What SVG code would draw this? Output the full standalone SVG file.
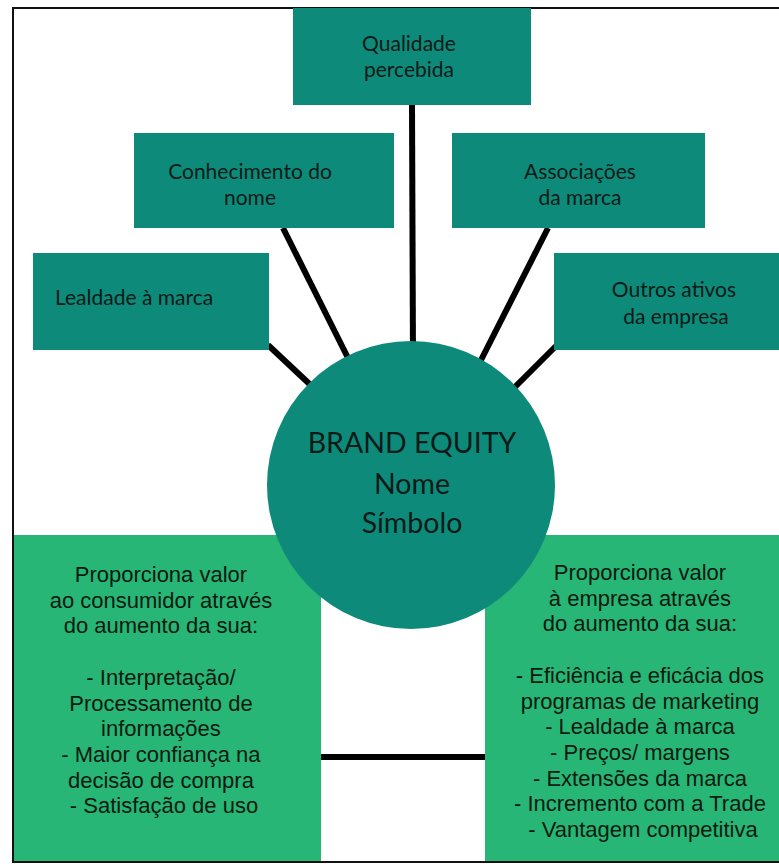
<svg xmlns="http://www.w3.org/2000/svg" width="779" height="864" viewBox="0 0 779 864">
  <style>
    .teal { fill: #0e8a7a; }
    .green { fill: #27b675; }
    .spoke { stroke: #000; stroke-width: 6; fill: none; }
    .frame { stroke: #111; stroke-width: 2; fill: none; }
    .lbl { font-family: "Lato", "Liberation Sans", sans-serif; font-size: 21px; fill: #0a1a17; }
    .core { font-family: "Lato", "Liberation Sans", sans-serif; font-size: 28.5px; fill: #0a1a17; text-anchor: middle; }
    .list { font-family: "Liberation Sans", Arial, sans-serif; font-size: 22px; fill: #0a1a10; text-anchor: middle; }
  </style>

  <rect x="0" y="0" width="779" height="864" fill="#ffffff"/>

  <!-- outer frame -->
  <path class="frame" d="M779 8 H13 V862 H779"/>

  <!-- value boxes -->
  <g id="valor-consumidor">
    <rect class="green" x="14" y="535" width="307" height="326"/>
    <text class="list">
      <tspan x="164" y="582">Proporciona valor</tspan>
      <tspan x="164" y="607.7">ao consumidor através</tspan>
      <tspan x="164" y="633.4">do aumento da sua:</tspan>
      <tspan x="164" y="684.8">- Interpretação/</tspan>
      <tspan x="164" y="710.5">Processamento de</tspan>
      <tspan x="164" y="736.2">informações</tspan>
      <tspan x="164" y="761.9">- Maior confiança na</tspan>
      <tspan x="164" y="787.6">decisão de compra</tspan>
      <tspan x="164" y="813.3">- Satisfação de uso</tspan>
    </text>
  </g>
  <g id="valor-empresa">
    <rect class="green" x="485" y="535" width="294" height="326"/>
    <text class="list">
      <tspan x="643" y="580">Proporciona valor</tspan>
      <tspan x="643" y="605.7">à empresa através</tspan>
      <tspan x="643" y="631.4">do aumento da sua:</tspan>
      <tspan x="643" y="682.8">- Eficiência e eficácia dos</tspan>
      <tspan x="643" y="708.5">programas de marketing</tspan>
      <tspan x="643" y="734.2">- Lealdade à marca</tspan>
      <tspan x="643" y="759.9">- Preços/ margens</tspan>
      <tspan x="643" y="785.6">- Extensões da marca</tspan>
      <tspan x="643" y="811.3">- Incremento com a Trade</tspan>
      <tspan x="643" y="837">- Vantagem competitiva</tspan>
    </text>
  </g>

  <!-- connectors -->
  <g id="connectors">
    <line class="spoke" x1="412" y1="105" x2="413" y2="360"/>
    <line class="spoke" x1="283" y1="228" x2="352" y2="366"/>
    <line class="spoke" x1="548" y1="228" x2="478" y2="366"/>
    <line class="spoke" x1="268" y1="345" x2="318" y2="392"/>
    <line class="spoke" x1="557" y1="345" x2="510" y2="392"/>
    <line class="spoke" x1="321" y1="757" x2="485" y2="757"/>
  </g>

  <!-- asset boxes -->
  <g id="qualidade">
    <rect class="teal" x="293" y="8" width="238" height="97"/>
    <text class="lbl" text-anchor="middle"><tspan x="409" y="51">Qualidade</tspan><tspan x="409" y="77">percebida</tspan></text>
  </g>
  <g id="conhecimento">
    <rect class="teal" x="134" y="133" width="260" height="95"/>
    <text class="lbl" text-anchor="middle"><tspan x="250" y="179">Conhecimento do</tspan><tspan x="250" y="205">nome</tspan></text>
  </g>
  <g id="associacoes">
    <rect class="teal" x="452" y="133" width="253" height="95"/>
    <text class="lbl" text-anchor="middle"><tspan x="580" y="179">Associações</tspan><tspan x="580" y="205">da marca</tspan></text>
  </g>
  <g id="lealdade">
    <rect class="teal" x="33" y="253" width="236" height="97"/>
    <text class="lbl" x="55" y="305">Lealdade à marca</text>
  </g>
  <g id="outros">
    <rect class="teal" x="554" y="253" width="225" height="97"/>
    <text class="lbl" text-anchor="middle"><tspan x="674" y="297">Outros ativos</tspan><tspan x="676" y="324">da empresa</tspan></text>
  </g>

  <!-- central node -->
  <g id="brand-equity">
    <circle class="teal" cx="411" cy="485" r="144"/>
    <text class="core"><tspan x="412" y="453">BRAND EQUITY</tspan><tspan x="412" y="494">Nome</tspan><tspan x="412" y="533">Símbolo</tspan></text>
  </g>
</svg>
